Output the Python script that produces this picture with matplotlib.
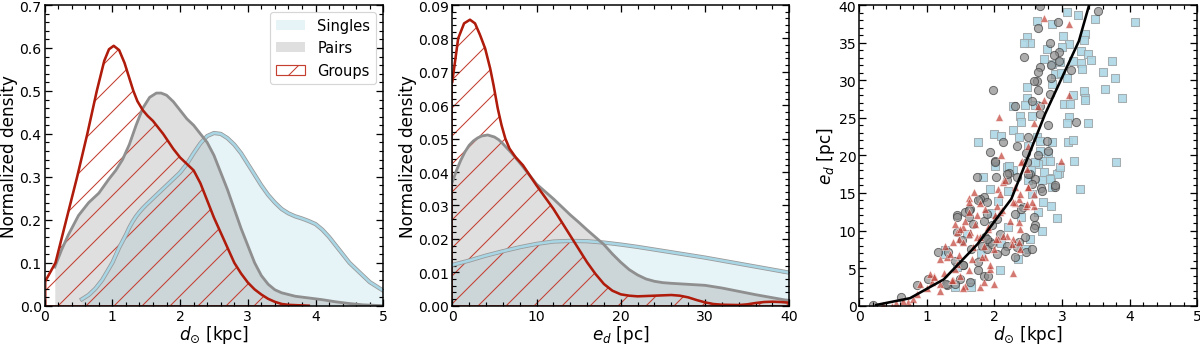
import numpy as np
import matplotlib.pyplot as plt
import matplotlib.patheffects as pe
from matplotlib.ticker import MultipleLocator, AutoMinorLocator, FormatStrFormatter


# ---- left panel: density of heliocentric distance (kpc)
sing_d_x = [0.55, 0.65, 0.75, 0.85, 1.0, 1.1, 1.2, 1.25, 1.3, 1.35, 1.4, 1.45, 1.5, 1.6, 1.7,
            1.8, 1.9, 2.0, 2.1, 2.2, 2.3, 2.4, 2.5, 2.6, 2.7, 2.8, 2.9, 3.0, 3.1, 3.2, 3.3,
            3.4, 3.5, 3.6, 3.7, 3.8, 3.9, 4.0, 4.1, 4.2, 4.3, 4.4, 4.5, 4.6, 4.7, 4.8, 4.9,
            5.0]
sing_d_y = [0.015, 0.025, 0.04, 0.06, 0.10, 0.135, 0.165, 0.182, 0.196, 0.208, 0.218, 0.227,
            0.235, 0.25, 0.265, 0.28, 0.295, 0.31, 0.33, 0.355, 0.378, 0.395, 0.402, 0.40,
            0.39, 0.375, 0.355, 0.33, 0.305, 0.28, 0.258, 0.24, 0.225, 0.215, 0.208, 0.203,
            0.197, 0.19, 0.177, 0.16, 0.14, 0.12, 0.10, 0.085, 0.07, 0.055, 0.045, 0.035]

pair_d_x = [0.15, 0.25, 0.35, 0.5, 0.65, 0.8, 0.95, 1.05, 1.15, 1.25, 1.35, 1.45, 1.55, 1.65,
            1.72, 1.8, 1.9, 2.0, 2.1, 2.2, 2.3, 2.4, 2.5, 2.6, 2.7, 2.8, 2.9, 3.0, 3.1, 3.2,
            3.3, 3.4, 3.5, 3.7, 3.9, 4.1, 4.3, 4.5, 4.7, 5.0]
pair_d_y = [0.09, 0.13, 0.165, 0.21, 0.24, 0.262, 0.295, 0.315, 0.34, 0.375, 0.42, 0.46, 0.485,
            0.495, 0.495, 0.49, 0.475, 0.455, 0.435, 0.42, 0.40, 0.38, 0.35, 0.31, 0.27, 0.225,
            0.18, 0.14, 0.10, 0.07, 0.05, 0.037, 0.03, 0.022, 0.018, 0.014, 0.009, 0.005,
            0.002, 0.0]

grp_d_x = [0.02, 0.16, 0.48, 0.63, 0.77, 0.88, 0.95, 1.02, 1.1, 1.18, 1.25, 1.31, 1.37, 1.45,
           1.52, 1.6, 1.75, 1.9, 2.0, 2.1, 2.2, 2.3, 2.4, 2.5, 2.6, 2.7, 2.8, 2.9, 3.0, 3.1,
           3.2, 3.3, 3.4, 3.5, 3.6, 3.9]
grp_d_y = [0.06, 0.10, 0.30, 0.40, 0.50, 0.57, 0.597, 0.605, 0.595, 0.565, 0.53, 0.50, 0.476,
           0.455, 0.442, 0.43, 0.40, 0.365, 0.345, 0.33, 0.315, 0.285, 0.245, 0.205, 0.17,
           0.135, 0.10, 0.075, 0.054, 0.038, 0.026, 0.016, 0.009, 0.004, 0.002, 0.0]

# ---- middle panel: density of distance error (pc)
sing_e_x = [0, 2, 4, 6, 8, 10, 12, 14, 16, 18, 20, 22, 24, 26, 28, 30, 32, 34, 36, 38, 40]
sing_e_y = [0.0122, 0.0135, 0.0150, 0.0163, 0.0175, 0.0185, 0.0192, 0.0194, 0.0193, 0.0189,
            0.0183, 0.0176, 0.0168, 0.0160, 0.0152, 0.0144, 0.0135, 0.0126, 0.0117, 0.0108,
            0.0099]

pair_e_x = [0, 0.5, 1, 1.5, 2, 2.5, 3, 3.5, 4.2, 5, 5.5, 6, 7, 8, 9, 10, 11, 12, 13, 14, 15,
            16, 17, 18, 19, 20, 21, 22, 23, 24, 25, 26, 28, 30, 32, 34, 36, 38, 40]
pair_e_y = [0.037, 0.0405, 0.0435, 0.046, 0.048, 0.0493, 0.0502, 0.0508, 0.0511, 0.0505,
            0.0497, 0.0485, 0.0458, 0.0428, 0.0396, 0.0364, 0.0342, 0.032, 0.0296, 0.0272,
            0.025, 0.0227, 0.0205, 0.0183, 0.0155, 0.013, 0.0108, 0.0092, 0.008, 0.0073,
            0.0069, 0.0067, 0.0064, 0.0061, 0.0053, 0.0043, 0.0033, 0.0024, 0.0015]

grp_e_x = [0, 0.7, 1.4, 2.1, 2.7, 3.3, 3.9, 4.5, 4.9, 5.4, 5.85, 6.3, 6.8, 7.5, 8.4, 9.2, 10,
           11, 12, 13, 14, 15, 16, 17, 18, 19, 20, 21, 22, 23, 24, 25, 26, 27, 28, 29, 30,
           31, 32, 34, 35, 36, 37, 38, 39, 40]
grp_e_y = [0.067, 0.080, 0.0845, 0.0856, 0.0845, 0.081, 0.077, 0.071, 0.066, 0.059, 0.054,
           0.050, 0.047, 0.0445, 0.042, 0.039, 0.036, 0.0325, 0.029, 0.025, 0.021, 0.017,
           0.013, 0.0095, 0.0065, 0.0045, 0.0034, 0.003, 0.0028, 0.0029, 0.003, 0.0031,
           0.0032, 0.003, 0.0025, 0.0017, 0.001, 0.0005, 0.0003, 0.0002, 0.0004, 0.0008,
           0.0011, 0.0012, 0.0011, 0.0009]

# ---- right panel: error vs distance
sing_sc_d = [3.07, 3.24, 2.63, 2.85, 3.49, 4.08, 2.48, 2.53, 2.44, 3.02, 3.34, 3.33, 3.11, 2.78,
             3.00, 3.28, 3.39, 3.43, 3.74, 2.74, 2.85, 2.97, 3.17, 3.28, 3.30, 3.60, 3.79, 2.90,
             2.99, 3.07, 2.48, 2.85, 3.63, 3.33, 3.34, 3.89, 2.48, 3.17,
             2.28, 2.455, 2.60, 3.03, 3.12, 3.34, 2.38, 2.39, 2.55, 3.11, 3.07, 3.38, 2.27, 1.99,
             2.09, 1.75, 2.36, 2.63, 2.85, 2.68, 3.09, 3.16, 2.50, 2.68, 2.80, 2.73, 2.82, 2.65,
             3.18, 3.80, 2.22, 2.28, 2.18, 2.54, 2.84, 2.95, 2.70, 1.83, 3.27, 2.85, 2.72, 2.83,
             1.94, 2.06, 2.92, 2.70, 2.53, 2.46, 2.08, 1.27, 1.45, 1.41, 1.65, 2.35, 2.20, 1.95,
             1.60, 2.40, 2.65, 2.55, 2.20, 1.80, 2.10,
             2.01, 2.21, 2.60, 2.73, 2.92, 2.82, 2.97, 2.50, 1.66, 1.27]
sing_sc_e = [39.1, 38.7, 37.9, 37.5, 38.1, 37.8, 35.7, 35.0, 34.9, 35.9, 36.2, 35.3, 34.8, 34.2,
             34.4, 33.9, 33.5, 32.7, 32.5, 32.8, 32.2, 32.4, 32.5, 32.3, 31.5, 31.1, 30.3, 30.8,
             31.0, 30.3, 29.1, 29.5, 28.8, 28.6, 27.6, 27.6, 27.6, 28.0,
             26.6, 26.7, 26.7, 26.8, 26.8, 27.4, 25.3, 24.5, 25.2, 25.1, 24.3, 24.3, 23.4, 22.9,
             22.6, 21.8, 22.4, 22.4, 21.8, 21.9, 21.8, 22.0, 21.3, 20.6, 20.3, 19.3, 19.3, 18.9,
             19.3, 19.1, 18.6, 18.1, 18.4, 18.0, 17.0, 17.7, 16.7, 17.1, 15.5, 15.8, 13.8, 13.3,
             15.5, 13.9, 11.65, 10.0, 8.9, 7.6, 4.8, 7.4, 5.2, 2.5, 3.0, 6.2, 10.5, 12.3,
             9.5, 11.8, 12.4, 14.8, 15.3, 7.0, 8.3,
             18.6, 18.6, 19.1, 17.8, 17.5, 16.9, 18.4, 16.7, 2.5, 6.9]

pair_sc_d = [2.67, 3.54, 2.65, 2.94, 2.82, 2.95, 2.88, 2.95, 2.44, 2.84, 2.68, 2.65, 3.14, 2.84,
             2.63, 2.58, 2.65, 1.98, 2.82, 2.55, 2.31,
             2.68, 2.67, 3.20, 2.79, 2.12, 2.50, 2.33, 2.78, 2.79, 1.94, 2.01, 2.64, 2.47, 2.48,
             1.74, 2.03, 2.21, 2.18, 2.52, 2.60, 2.69, 2.90, 1.84, 1.79, 2.55, 1.64,
             2.60, 1.76, 1.89, 1.57, 1.44, 1.62, 1.84, 2.04, 1.44, 1.32, 1.86, 1.94, 2.08, 2.18,
             2.33, 2.31, 2.46, 1.66, 1.89, 2.04, 1.54, 1.76, 1.84, 1.49, 1.30, 0.85, 2.31, 2.58,
             2.43, 0.20, 0.62, 1.02, 2.55,
             1.44, 1.62, 1.69, 1.89, 1.52, 1.81, 1.96, 1.17, 1.42, 1.54, 1.76, 1.91, 1.64, 1.29,
             1.42, 2.01, 2.18, 2.33, 2.50, 2.90, 2.70, 2.58, 2.45, 2.36, 1.96, 1.89, 2.16, 2.40]
pair_sc_e = [39.9, 39.2, 37.0, 37.7, 34.9, 33.8, 33.3, 32.6, 33.1, 32.0, 31.7, 31.1, 31.4, 30.3,
             29.9, 29.9, 28.7, 28.7, 28.1, 27.2, 26.5,
             26.6, 25.5, 24.4, 24.0, 21.8, 22.4, 21.3, 21.97, 20.6, 20.4, 19.2, 20.0, 20.3, 19.1,
             17.1, 17.1, 17.7, 16.7, 17.5, 16.9, 15.6, 15.8, 14.5, 14.2, 16.2, 12.9,
             10.7, 14.0, 13.8, 12.4, 12.0, 11.8, 11.3, 11.6, 9.8, 7.1, 9.1, 8.5, 9.6, 8.0,
             7.8, 6.5, 7.1, 7.6, 7.6, 6.9, 5.4, 5.8, 4.0, 3.6, 2.7, 2.7, 12.2, 11.8,
             13.1, 0.04, 1.15, 3.6, 7.5,
             11.8, 12.7, 10.9, 12.2, 8.7, 8.0, 8.2, 7.1, 6.0, 5.4, 4.7, 4.0, 3.1, 2.9,
             2.9, 19.1, 17.5, 17.1, 17.5, 16.0, 15.3, 10.4, 9.1, 8.5, 10.7, 8.9, 7.3, 12.9]

grp_sc_d = [2.73, 3.11, 3.10, 2.73, 2.65, 2.07, 2.58, 2.09, 2.50, 2.41, 2.98, 2.48, 1.70, 1.62,
            2.12, 2.50, 2.06, 2.36, 2.58,
            1.62, 1.74, 1.79, 1.62, 2.04, 2.08, 2.31, 2.46, 2.55, 1.42, 1.54, 1.71, 1.91, 1.64,
            1.47, 1.74, 2.06, 1.84, 1.99, 2.18, 2.28, 2.36, 2.38, 1.54, 1.39, 1.30, 1.47, 1.67,
            1.86, 1.62, 1.42, 1.25, 1.10, 1.07, 1.20, 1.39, 1.57, 1.79, 1.94, 2.28, 0.90, 1.00,
            0.85, 1.20, 1.44, 1.27, 1.19, 1.04, 0.72, 0.48, 0.35, 0.55, 0.65, 0.80,
            1.57, 1.49, 1.62, 1.34, 1.69, 1.79, 1.91, 2.01, 1.86, 1.37, 1.49, 1.84, 1.94, 1.99,
            1.10, 1.54, 1.44, 1.81, 2.16, 2.31, 2.50, 2.58, 2.38, 2.08, 2.28, 2.48, 2.11, 2.23,
            2.36, 2.13, 2.03, 2.26, 2.38, 2.40]
grp_sc_e = [38.3, 37.5, 28.0, 27.4, 26.5, 25.1, 24.3, 20.0, 21.3, 19.3, 19.3, 18.2, 15.1, 14.3,
            16.5, 15.8, 15.5, 14.2, 13.3,
            12.4, 12.0, 13.6, 13.8, 13.3, 12.4, 13.6, 13.3, 13.8, 10.9, 10.5, 10.9, 10.2, 9.8,
            8.9, 9.1, 8.9, 8.0, 7.6, 9.3, 8.9, 8.5, 10.2, 8.5, 8.5, 6.5, 6.7, 6.2,
            6.5, 4.7, 4.9, 4.3, 4.0, 3.2, 2.9, 3.4, 2.6, 2.5, 4.9, 4.3, 2.9, 2.3,
            1.6, 2.0, 9.8, 8.0, 6.2, 4.2, 0.5, 0.0, 0.1, 0.3, 0.6, 0.9,
            11.3, 10.2, 9.6, 6.9, 7.8, 9.1, 10.5, 12.0, 12.9, 3.4, 4.0, 3.1, 5.4, 2.9,
            3.8, 2.3, 5.6, 6.5, 16.7, 15.8, 15.8, 14.9, 14.9, 14.9, 13.8, 13.5, 12.7, 11.3,
            11.1, 9.3, 8.9, 8.2, 7.6, 19.1]

# binned median relation
med_d = [0.25, 0.75, 1.25, 1.75, 2.25, 2.75, 3.25, 3.75]
med_e = [0.1, 1.0, 3.5, 8.2, 14.2, 25.5, 35.2, 51.0]

red = '#b01c0c'
hatch_red = '#c43f30'
blue_line = '#a9d6e5'
blue_fill = '#add8e6'
gray_line = '#8f8f8f'

plt.rcParams['hatch.linewidth'] = 0.9
dpi = 84
fig = plt.figure(figsize=(1200 / dpi, 345 / dpi), dpi=dpi)
ax1 = fig.add_axes([0.0372, 0.111, 0.2822, 0.8716])
ax2 = fig.add_axes([0.3769, 0.111, 0.2808, 0.8716])
ax3 = fig.add_axes([0.7161, 0.111, 0.2815, 0.8716])


def kde_panel(ax, sx, sy, px, py, gx, gy, legend=False):
    ax.fill_between(sx, sy, color=blue_fill, alpha=0.3, lw=0, label='Singles')
    ax.fill_between(px, py, color='gray', alpha=0.25, lw=0, label='Pairs')
    ax.fill_between(gx, gy, facecolor='none', edgecolor=hatch_red, hatch='/', lw=1.0,
                    label='Groups')
    ax.plot(sx, sy, color=blue_line, lw=2.2,
            path_effects=[pe.Stroke(linewidth=3.6, foreground='#9a9a9a'), pe.Normal()])
    ax.plot(px, py, color=gray_line, lw=2.4)
    ax.plot(gx, gy, color=red, lw=2.2)
    if legend:
        ax.legend(loc='upper right', fontsize=12.5, handlelength=2.0)
    ax.set_ylabel('Normalized density', fontsize=14.5, labelpad=1)


kde_panel(ax1, sing_d_x, sing_d_y, pair_d_x, pair_d_y, grp_d_x, grp_d_y, legend=True)
ax1.set_xlim(0, 5)
ax1.set_ylim(0, 0.7)
ax1.xaxis.set_major_locator(MultipleLocator(1))
ax1.yaxis.set_major_locator(MultipleLocator(0.1))
ax1.yaxis.set_major_formatter(FormatStrFormatter('%.1f'))
ax1.set_xlabel(r'$d_{\odot}$ [kpc]', fontsize=14.5, labelpad=0)

kde_panel(ax2, sing_e_x, sing_e_y, pair_e_x, pair_e_y, grp_e_x, grp_e_y)
ax2.set_xlim(0, 40)
ax2.set_ylim(0, 0.09)
ax2.xaxis.set_major_locator(MultipleLocator(10))
ax2.yaxis.set_major_locator(MultipleLocator(0.01))
ax2.yaxis.set_major_formatter(FormatStrFormatter('%.2f'))
ax2.set_xlabel(r'$e_d$ [pc]', fontsize=14.5, labelpad=0)

ax3.scatter(sing_sc_d, sing_sc_e, marker='s', s=44, facecolor=blue_fill, edgecolor='#9fa7aa',
            linewidths=0.9, alpha=0.9)
ax3.scatter(pair_sc_d, pair_sc_e, marker='o', s=50, facecolor='#8a8a8a', edgecolor='#3a3a3a',
            linewidths=0.8, alpha=0.7)
ax3.scatter(grp_sc_d, grp_sc_e, marker='^', s=44, facecolor='#c2463c', edgecolor='white',
            linewidths=0.5, alpha=0.72)
ax3.plot(med_d, med_e, color='black', lw=2.2)
ax3.set_xlim(0, 5)
ax3.set_ylim(0, 40)
ax3.xaxis.set_major_locator(MultipleLocator(1))
ax3.yaxis.set_major_locator(MultipleLocator(5))
ax3.set_xlabel(r'$d_{\odot}$ [kpc]', fontsize=14.5, labelpad=0)
ax3.set_ylabel(r'$e_d$ [pc]', fontsize=14.5, labelpad=1)

for ax in (ax1, ax2, ax3):
    ax.xaxis.set_minor_locator(AutoMinorLocator(5))
    ax.yaxis.set_minor_locator(AutoMinorLocator(5))
    ax.tick_params(which='both', direction='in', top=True, right=True, labelsize=12, pad=2.5)
    ax.tick_params(which='major', length=6, width=1.1)
    ax.tick_params(which='minor', length=3.5, width=1.0)
    for sp in ax.spines.values():
        sp.set_linewidth(1.3)

fig.savefig('out.png', dpi=dpi)
